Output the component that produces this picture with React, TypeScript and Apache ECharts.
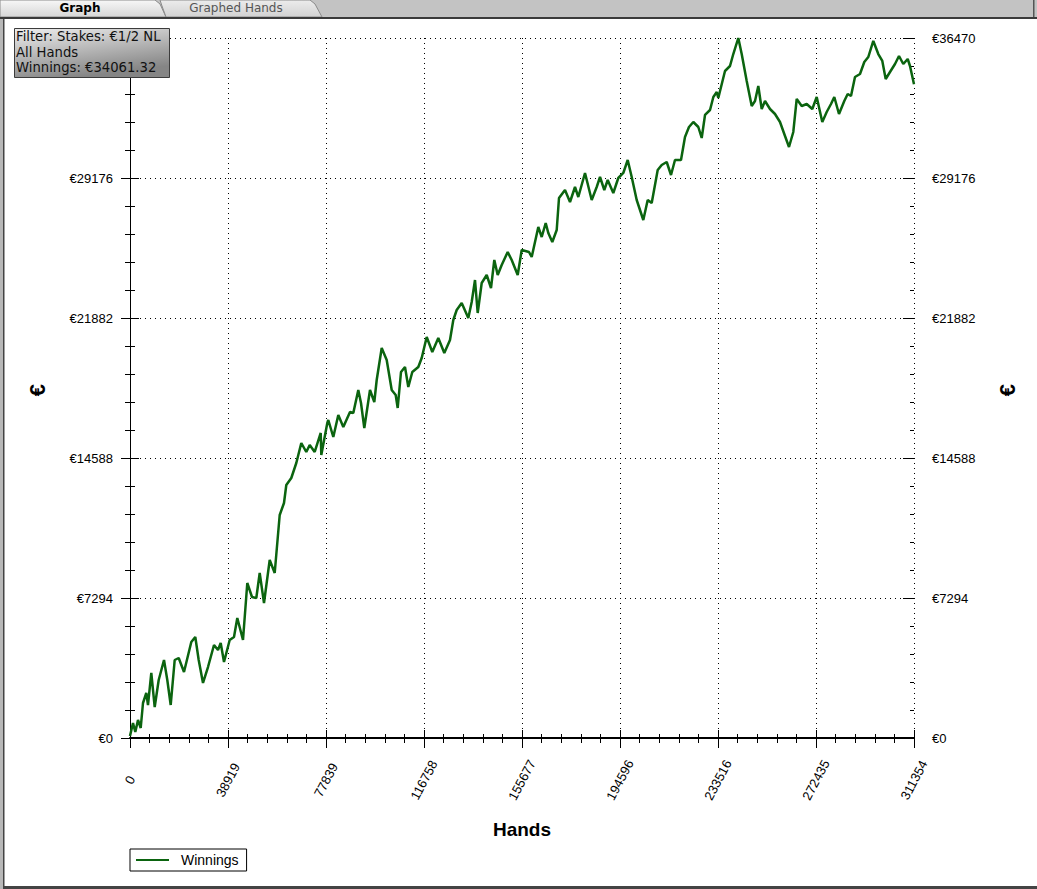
import React, { useEffect, useRef } from "react";
import * as echarts from "echarts";

// Hands played (x) and cumulative winnings in € (y)
const hands = [
  0, 1191, 2105, 3177, 4249, 5163, 6473, 7148, 8459, 9809, 11398, 13503, 14813, 16163, 17752, 19340,
  21445, 24344, 25933, 27283, 28991, 30977, 33359, 34948, 36020, 37331, 39594, 41302, 42613, 44876,
  46584, 48450, 50158, 51508, 53216, 55480, 57466, 59451, 61159, 62072, 64058, 66044, 68029, 70015,
  71365, 73351, 75734, 75972, 78355, 78752, 80738, 82723, 84709, 87370, 88680, 90666, 91738, 93049,
  95312, 97020, 97973, 99959, 101944, 103930, 105519, 106313, 107624, 109212, 110523, 112111, 114494,
  115844, 117830, 120054, 122437, 124820, 127083, 128394, 129744, 131730, 134351, 135701, 137012,
  138084, 139673, 141658, 143366, 144677, 146027, 147616, 149998, 151587, 153970, 155558, 158459,
  159531, 162153, 163503, 165091, 166124, 167712, 169460, 170371, 172754, 174739, 176725, 178036,
  180700, 183359, 185345, 186659, 188362, 189712, 191937, 193922, 195908, 197655, 199244, 201229,
  203850, 205598, 207186, 209569, 211157, 213143, 214849, 216437, 218820, 220405, 221994, 223712,
  225698, 227048, 228359, 230345, 231666, 233020, 233636, 236295, 238281, 239592, 241578, 242928,
  244914, 246900, 248211, 249521, 250871, 252181, 254167, 256152, 258138, 260124, 261712, 263421,
  264771, 266757, 268742, 270966, 272712, 274937, 276682, 278390, 279700, 281571, 283670, 285019,
  286333, 287920, 289906, 291616, 293205, 295191, 297176, 298765, 300115, 301825, 303808, 305397,
  307101, 308853, 309765, 311354,
];
const winnings = [
  104, 782, 313, 938, 521, 1824, 2345, 1719, 3387, 1615, 3022, 4064, 3022, 1719, 4064, 4168,
  3439, 5002, 5262, 4064, 2866, 3699, 4845, 4585, 4950, 3960, 5106, 5262, 6252, 5106,
  8076, 7346, 7294, 8597, 7034, 9274, 8597, 11618, 12244, 13181, 13546, 14328, 15370, 14901,
  15265, 14901, 15891, 14744, 16412, 16568, 15682, 16828, 16203, 16985, 16933, 18131, 17454, 16151,
  18131, 17506, 18652, 20319, 19694, 18131, 17870, 17193, 19069, 19329, 18287, 19069, 19329,
  19798, 20892, 20111, 20840, 20059, 20736, 21778, 22299, 22664, 21882, 22716, 23862,
  22143, 23706, 24122, 23445, 24904, 24122, 24643, 25321, 24904, 24122, 25425, 25321,
  25060, 26623, 26102, 26832, 26311, 25842, 26468, 28134, 28551, 27926, 28707, 28186,
  29437, 28030, 28707, 29228, 28551, 29072, 28395, 29176, 29437, 30114, 29228, 28030,
  26988, 28030, 27874, 29593, 29853, 30010, 29332, 30114, 30114, 31312, 31833, 32094,
  31833, 31260, 32459, 32719, 33396, 33657, 33344, 34751, 35011, 35636, 36470, 35636,
  34230, 32927, 33188, 33969, 32771, 33188, 32771, 32510, 32094, 31364, 30791, 31573,
  33292, 32927, 33031, 32771, 33396, 32094, 32615, 33031, 33396, 32510, 33188, 33552,
  33448, 34438, 34594, 35220, 35480, 36314, 35636, 35272, 34334, 34699, 35115, 35532,
  35115, 35376, 35011, 34061.32,
];

const xMax = 311354;
const xInterval = xMax / 8;
const yMax = 36470;
const yInterval = 7294;
const seriesName = "Winnings";
const filterLines = ["Filter: Stakes: €1/2 NL", "All Hands", "Winnings: €34061.32"];

const LINE_COLOR = "#0b640f";
const FONT = "'Liberation Sans', Arial, sans-serif";

export default function App() {
  const ref = useRef<HTMLDivElement>(null);
  useEffect(() => {
    if (!ref.current) return;
    const chart = echarts.init(ref.current, undefined, { renderer: "svg" });
    const data = hands.map((h, i) => [h, winnings[i]]);
    const tickLine = { color: "#000", width: 1 };
    const baseX = {
      type: "value" as const,
      min: 0,
      max: xMax,
      interval: xInterval,
      gridIndex: 0,
    };
    const baseY = {
      type: "value" as const,
      min: 0,
      max: yMax,
      interval: yInterval,
      gridIndex: 0,
    };
    chart.setOption({
      animation: false,
      backgroundColor: "#ffffff",
      grid: { left: 130, right: 123, top: 38, bottom: 151, containLabel: false },
      legend: {
        left: 130,
        top: 849,
        data: [seriesName],
        borderColor: "#000",
        borderWidth: 1,
        borderRadius: 0,
        padding: [4, 8, 4, 5],
        itemWidth: 33,
        itemHeight: 14,
        itemGap: 10,
        itemStyle: { opacity: 0 },
        textStyle: { fontFamily: FONT, fontSize: 14, color: "#000", padding: [0, 0, 0, 7] },
      },
      xAxis: [
        {
          ...baseX,
          position: "bottom",
          axisLine: { show: true, lineStyle: { color: "#000", width: 2 } },
          axisTick: { show: true, inside: false, length: 9, lineStyle: tickLine },
          minorTick: { show: true, splitNumber: 5, length: 5, lineStyle: tickLine },
          axisLabel: {
            show: true,
            rotate: 62,
            align: "center",
            verticalAlign: "middle",
            margin: 42,
            fontFamily: FONT,
            fontSize: 13,
            color: "#000",
            formatter: (v: number) => String(Math.round(v)),
          },
          splitLine: { show: true, lineStyle: { color: "#000", width: 1, type: [1, 4] } },
          minorSplitLine: { show: false },
        },
        {
          ...baseX,
          position: "bottom",
          axisLine: { show: false },
          axisTick: { show: true, inside: true, length: 8, lineStyle: tickLine },
          minorTick: { show: true, splitNumber: 5, length: 4, lineStyle: tickLine },
          axisLabel: { show: false },
          splitLine: { show: false },
        },
        {
          ...baseX,
          position: "top",
          axisLine: { show: true, lineStyle: { color: "#000", width: 1 } },
          axisTick: { show: true, inside: true, length: 10, lineStyle: tickLine },
          minorTick: { show: true, splitNumber: 5, length: 5, lineStyle: tickLine },
          axisLabel: { show: false },
          splitLine: { show: false },
        },
      ],
      yAxis: [
        {
          ...baseY,
          position: "left",
          axisLine: { show: true, lineStyle: { color: "#000", width: 1 } },
          axisTick: { show: true, inside: false, length: 9, lineStyle: tickLine },
          minorTick: { show: true, splitNumber: 5, length: 5, lineStyle: tickLine },
          axisLabel: {
            show: true,
            showMaxLabel: false,
            margin: 17,
            fontFamily: FONT,
            fontSize: 13,
            color: "#000",
            formatter: (v: number) => "€" + Math.round(v),
          },
          splitLine: { show: true, lineStyle: { color: "#000", width: 1, type: [1, 4] } },
        },
        {
          ...baseY,
          position: "left",
          axisLine: { show: false },
          axisTick: { show: true, inside: true, length: 5, lineStyle: tickLine },
          minorTick: { show: true, splitNumber: 5, length: 5, lineStyle: tickLine },
          axisLabel: { show: false },
          splitLine: { show: false },
        },
        {
          ...baseY,
          position: "right",
          axisLine: { show: true, lineStyle: { color: "#000", width: 1 } },
          axisTick: { show: true, inside: false, length: 9, lineStyle: tickLine },
          minorTick: { show: true, splitNumber: 5, length: 5, lineStyle: tickLine },
          axisLabel: {
            show: true,
            margin: 18,
            fontFamily: FONT,
            fontSize: 13,
            color: "#000",
            formatter: (v: number) => "€" + Math.round(v),
          },
          splitLine: { show: false },
        },
        {
          ...baseY,
          position: "right",
          axisLine: { show: false },
          axisTick: { show: true, inside: true, length: 11, lineStyle: tickLine },
          minorTick: { show: true, splitNumber: 5, length: 4, lineStyle: tickLine },
          axisLabel: { show: false },
          splitLine: { show: false },
        },
      ],
      series: [
        {
          name: seriesName,
          type: "line",
          xAxisIndex: 0,
          yAxisIndex: 0,
          data,
          symbol: "none",
          showSymbol: false,
          lineStyle: { color: LINE_COLOR, width: 2.5 },
          itemStyle: { color: LINE_COLOR },
          z: 10,
        },
      ],
      graphic: [
        // window chrome: tab strip
        { type: "rect", shape: { x: 0, y: 0, width: 1037, height: 17 }, style: { fill: "#c3c3c3" }, silent: true },
        {
          type: "polygon",
          shape: { points: [[0, 0], [155, 0], [160, 4], [166, 17], [0, 17]] },
          style: {
            fill: new echarts.graphic.LinearGradient(0, 0, 0, 1, [
              { offset: 0, color: "#f7f7f7" },
              { offset: 1, color: "#d6d6d6" },
            ]),
            stroke: "#8a8a8a",
            lineWidth: 1,
          },
          silent: true,
        },
        {
          type: "polygon",
          shape: { points: [[160, 0], [310, 0], [315, 4], [322, 17], [166, 17], [162, 6]] },
          style: {
            fill: new echarts.graphic.LinearGradient(0, 0, 0, 1, [
              { offset: 0, color: "#ececec" },
              { offset: 1, color: "#d2d2d2" },
            ]),
            stroke: "#8a8a8a",
            lineWidth: 1,
          },
          silent: true,
        },
        {
          type: "text",
          x: 80,
          y: 8,
          style: { text: "Graph", fontFamily: "'DejaVu Sans', sans-serif", fontWeight: "bold", fontSize: 12, fill: "#000", align: "center", verticalAlign: "middle" },
          silent: true,
        },
        {
          type: "text",
          x: 236,
          y: 8,
          style: { text: "Graphed Hands", fontFamily: "'DejaVu Sans', sans-serif", fontSize: 12, fill: "#555", align: "center", verticalAlign: "middle" },
          silent: true,
        },
        { type: "rect", shape: { x: 0, y: 17, width: 1037, height: 2 }, style: { fill: "#3a3a3a" }, silent: true },
        { type: "rect", shape: { x: 1033, y: 0, width: 1.5, height: 17 }, style: { fill: "#555" }, silent: true },
        { type: "rect", shape: { x: 0, y: 19, width: 3, height: 870 }, style: { fill: "#b8b8b8" }, silent: true },
        { type: "rect", shape: { x: 3, y: 19, width: 1.5, height: 870 }, style: { fill: "#444" }, silent: true },
        { type: "rect", shape: { x: 3, y: 886, width: 1034, height: 3 }, style: { fill: "#444" }, silent: true },
        // filter info box
        {
          type: "rect",
          shape: { x: 14.5, y: 28.5, width: 155, height: 49 },
          style: {
            fill: new echarts.graphic.LinearGradient(0, 0, 0.4, 1, [
              { offset: 0, color: "#eeeeee" },
              { offset: 1, color: "#858585" },
            ]),
            stroke: "#3c3c3c",
            lineWidth: 1,
          },
          z: 20,
          silent: true,
        },
        ...filterLines.map((t, i) => ({
          type: "text",
          x: 16,
          y: 36.5 + i * 15.5,
          z: 21,
          style: { text: t, fontFamily: "'DejaVu Sans', Verdana, sans-serif", fontSize: 13.2, fill: "#111", align: "left", verticalAlign: "middle" },
          silent: true,
        })),
        // axis titles
        {
          type: "text",
          x: 522,
          y: 829,
          style: { text: "Hands", fontFamily: FONT, fontWeight: "bold", fontSize: 19, fill: "#000", align: "center", verticalAlign: "middle" },
          silent: true,
        },
        {
          type: "text",
          x: 37,
          y: 390,
          rotation: Math.PI / 2,
          style: { text: "€", fontFamily: FONT, fontWeight: "bold", fontSize: 22, fill: "#000", align: "center", verticalAlign: "middle" },
          silent: true,
        },
        {
          type: "text",
          x: 1007,
          y: 390,
          rotation: Math.PI / 2,
          style: { text: "€", fontFamily: FONT, fontWeight: "bold", fontSize: 22, fill: "#000", align: "center", verticalAlign: "middle" },
          silent: true,
        },
      ],
    });
    return () => chart.dispose();
  }, []);
  return (
    <div
      ref={ref}
      style={{ position: "absolute", left: 0, top: 0, width: 1037, height: 889, background: "#fff" }}
    />
  );
}
